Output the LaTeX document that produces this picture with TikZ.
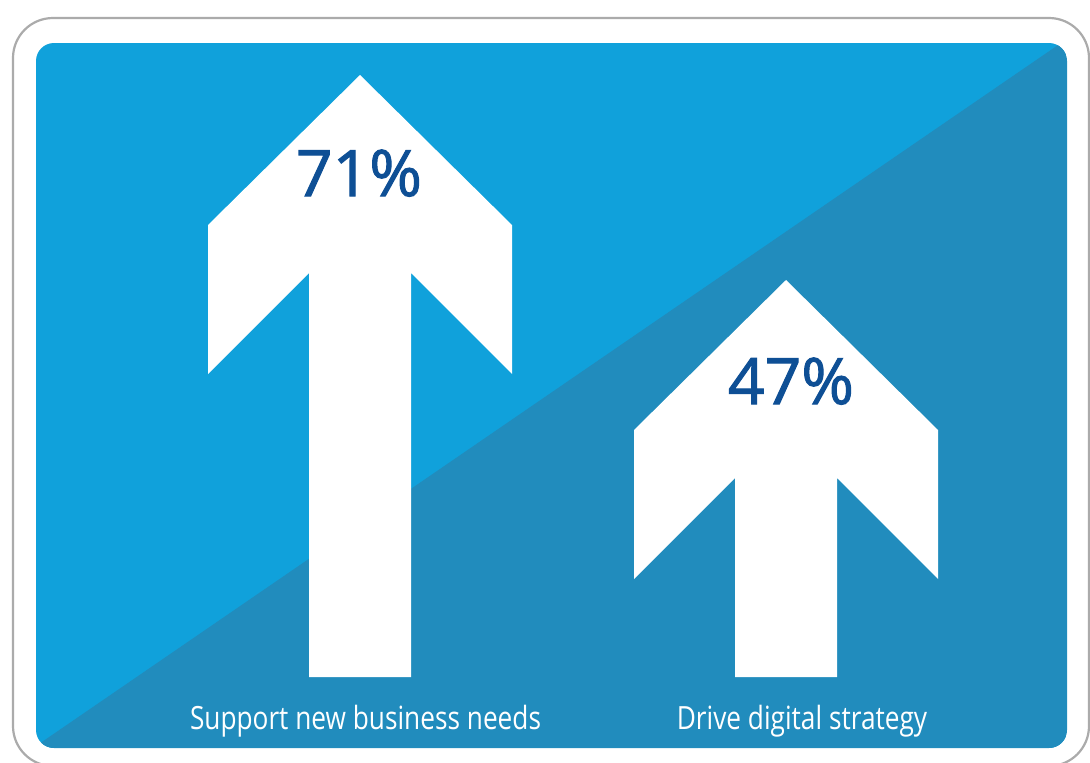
\documentclass[tikz,border=0pt]{standalone}
\usepackage{fontspec}
\setmainfont{Open Sans}
\newfontfamily\labelfont[FakeStretch=0.82]{Open Sans}
\newfontfamily\pctfont[FakeBold=1.6]{Open Sans}
\usepackage{tikz}
\definecolor{skyblue}{RGB}{16, 161, 219}
\definecolor{deepblue}{RGB}{33, 140, 189}
\definecolor{navy}{RGB}{14, 79, 149}
\definecolor{framegray}{RGB}{171, 171, 171}

\newcommand{\uparrowat}[2]{%
  \fill[white] (#1,#2) -- ++(152,150) -- ++(0,149) -- ++(-101,-101)
    -- ({#1+51},677) -- ({#1-51},677) -- ({#1-51},{#2+198})
    -- ++(-101,101) -- ++(0,-149) -- cycle;}

\begin{document}
\begin{tikzpicture}[x=1pt,y=-1pt,
    pct/.style={text=navy,anchor=base,font=\pctfont\fontsize{64}{64}\selectfont},
    lab/.style={text=white,anchor=base,font=\labelfont\fontsize{32}{32}\selectfont}]
  \useasboundingbox (0,0) rectangle (1090,763);
  \clip (0,0) rectangle (1090,763);
  \draw[framegray,line width=2.2pt,rounded corners=40pt] (13,18) rectangle (1089,766);
  \begin{scope}
    \clip[rounded corners=18pt] (36,43) rectangle (1067,748);
    \fill[skyblue] (36,43) rectangle (1067,748);
    \fill[deepblue] (20,757) -- (1080,30) -- (1080,760) -- (20,760) -- cycle;
  \end{scope}
  \uparrowat{360}{75}
  \uparrowat{786}{280}
  \node[pct] (pct1) at (359,196) {71\%};
  \node[pct] (pct2) at (791,404) {47\%};
  \node[lab] (lab1) at (365.5,729) {Support new business needs};
  \node[lab] (lab2) at (802,729) {Drive digital strategy};
\end{tikzpicture}
\end{document}
